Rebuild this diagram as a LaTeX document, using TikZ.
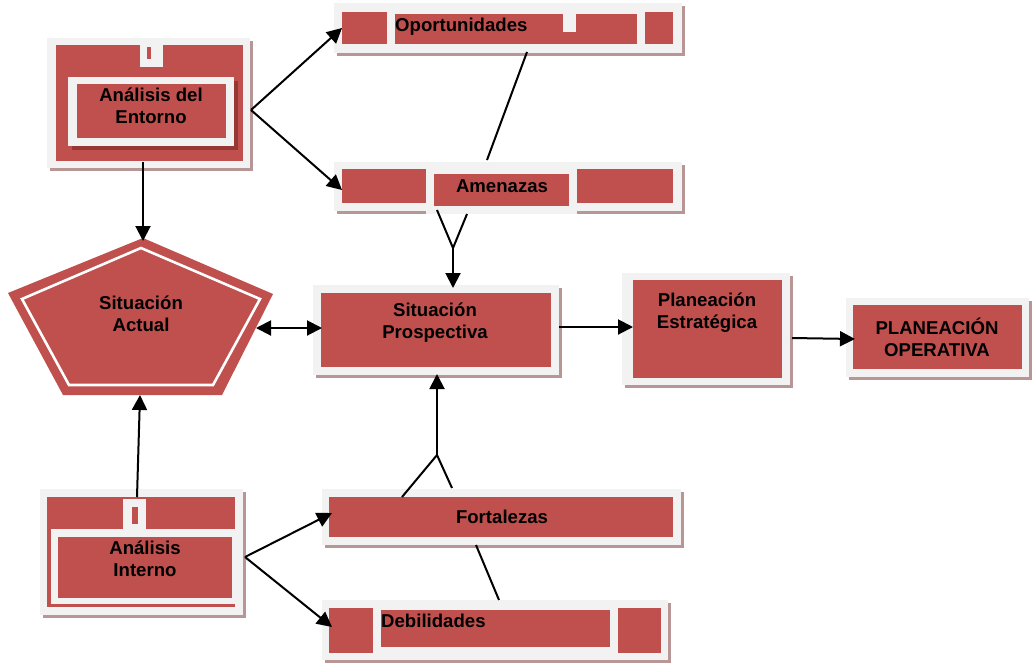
\documentclass[tikz,border=0pt]{standalone}
\usepackage{fontspec}
\setmainfont{Liberation Sans}
\usetikzlibrary{arrows.meta}
\definecolor{boxred}{RGB}{192,80,77}
\definecolor{framegray}{RGB}{242,242,242}
\definecolor{shadowc}{RGB}{185,150,150}
\definecolor{darkred}{RGB}{150,55,52}
\tikzset{
  lbl/.style={font=\bfseries\fontsize{18.6}{22}\selectfont, inner sep=0pt, align=center, text=black},
  conn/.style={line width=2pt, draw=black},
  arr/.style={conn, -{Triangle[length=15pt,width=15pt]}},
  darr/.style={conn, {Triangle[length=15pt,width=15pt]}-{Triangle[length=15pt,width=15pt]}},
  redfill/.style={fill=boxred},
  grayfill/.style={fill=framegray},
}
\newcommand\fbx[4]{\fill[shadowc] (#1+3,#2+3) rectangle (#3+3,#4+3); \fill[framegray] (#1,#2) rectangle (#3,#4);}
\begin{document}
\begin{tikzpicture}[x=1pt,y=-1pt]
\useasboundingbox[fill=white] (0,0) rectangle (1032,665);

% Analisis del Entorno
\fbx{47}{38}{250}{168}
\fill[redfill] (56,45) rectangle (243,161);
\fill[grayfill] (140,38) rectangle (163,67);
\fill[redfill] (147,47) rectangle (151,59);
\fill[darkred] (72,81) rectangle (238,150);
\fill[grayfill] (68,77) rectangle (234,146);
\fill[redfill] (77,84) rectangle (226,138);
\node[lbl] (ent) at (151,106) {Análisis del\\Entorno};

% Oportunidades
\fbx{334}{3}{682}{53}
\fill[redfill] (342,12) rectangle (387,44);
\fill[redfill] (395,14) rectangle (637,44);
\fill[redfill] (645,12) rectangle (673,44);
\fill[grayfill] (563,14) rectangle (576,32);
\node[lbl, anchor=base west] (opo) at (395,31) {Oportunidades};

% Amenazas
\fbx{334}{162}{682}{211}
\fill[redfill] (342,169) rectangle (426,203);
\fill[redfill] (577,169) rectangle (673,203);
\fill[grayfill] (426,170) rectangle (577,214);
\fill[redfill] (434,174) rectangle (569,206);
\node[lbl, anchor=base] (ame) at (502,192) {Amenazas};

% Situacion Actual
\fill[boxred] (143,238) -- (273,294) -- (222,395) -- (63,395) -- (8,293) -- cycle;
\draw[white, line width=2.6pt, line join=miter] (141,248) -- (260,299) -- (213,385) -- (69,385) -- (22,299) -- cycle;
\node[lbl] (act) at (141,314) {Situación\\Actual};

% Situacion Prospectiva
\fbx{313}{285}{559}{375}
\fill[redfill] (321,293) rectangle (551,367);
\node[lbl] (pro) at (435,323) {Situación\\Prospectiva};

% Planeacion Estrategica
\fbx{622}{273}{790}{385}
\fill[redfill] (633,280) rectangle (782,378);
\node[lbl] (est) at (707,313) {Planeación\\Estratégica};

% Planeacion Operativa
\fbx{846}{298}{1029}{377}
\fill[redfill] (853,305) rectangle (1022,369);
\node[lbl] (ope) at (937,337) {PLANEACIÓN\\OPERATIVA};

% Analisis Interno
\fbx{40}{489}{243}{615}
\fill[redfill] (47,497) rectangle (235,607);
\fill[grayfill] (51,529) rectangle (238,604);
\fill[redfill] (58,537) rectangle (232,598);
\fill[grayfill] (123,499) rectangle (146,529);
\fill[redfill] (132,507) rectangle (138,524);
\node[lbl] (int) at (145,559) {Análisis\\Interno};

% Fortalezas
\fbx{322}{489}{681}{545}
\fill[redfill] (329,497) rectangle (673,537);
\node[lbl, anchor=base] (for) at (502,523) {Fortalezas};

% Debilidades
\fbx{322}{600}{668}{660}
\fill[redfill] (329,608) rectangle (373,653);
\fill[redfill] (381,610) rectangle (610,647);
\fill[redfill] (618,608) rectangle (661,653);
\node[lbl, anchor=base west] (deb) at (381,627) {Debilidades};

% connector coordinates
\coordinate (entR) at (251,110);
\coordinate (opoL) at (342,28);
\coordinate (ameL) at (342,190);
\coordinate (entB) at (143,162);
\coordinate (actT) at (143,241);
\coordinate (intT) at (137,497);
\coordinate (actB) at (140,395);
\coordinate (intR) at (245,557);
\coordinate (forL) at (332,513);
\coordinate (debL) at (332,627);
\coordinate (actR) at (256,328);
\coordinate (proL) at (322,328);
\coordinate (opoB) at (527,52);
\coordinate (ameT) at (487,160);
\coordinate (ameY1) at (437,210);
\coordinate (ameY2) at (467,214);
\coordinate (ameJ) at (453,248);
\coordinate (proT) at (453,288);
\coordinate (proB) at (437,374);
\coordinate (forJ) at (437,455);
\coordinate (forY1) at (402,497);
\coordinate (forY2) at (452,488);
\coordinate (forB) at (476,545);
\coordinate (debT) at (499,600);
\coordinate (proR) at (559,327);
\coordinate (estL) at (633,327);
\coordinate (estR) at (792,338);
\coordinate (opeL) at (855,339);

\draw[arr] (entR) -- (opoL);
\draw[arr] (entR) -- (ameL);
\draw[arr] (entB) -- (actT);
\draw[arr] (intT) -- (actB);
\draw[arr] (intR) -- (forL);
\draw[arr] (intR) -- (debL);
\draw[darr] (actR) -- (proL);
\draw[conn] (opoB) -- (ameT);
\draw[conn] (ameY1) -- (ameJ) -- (ameY2);
\draw[arr] (ameJ) -- (proT);
\draw[arr] (forJ) -- (proB);
\draw[conn] (forY1) -- (forJ) -- (forY2);
\draw[conn] (forB) -- (debT);
\draw[arr] (proR) -- (estL);
\draw[arr] (estR) -- (opeL);
\end{tikzpicture}
\end{document}
